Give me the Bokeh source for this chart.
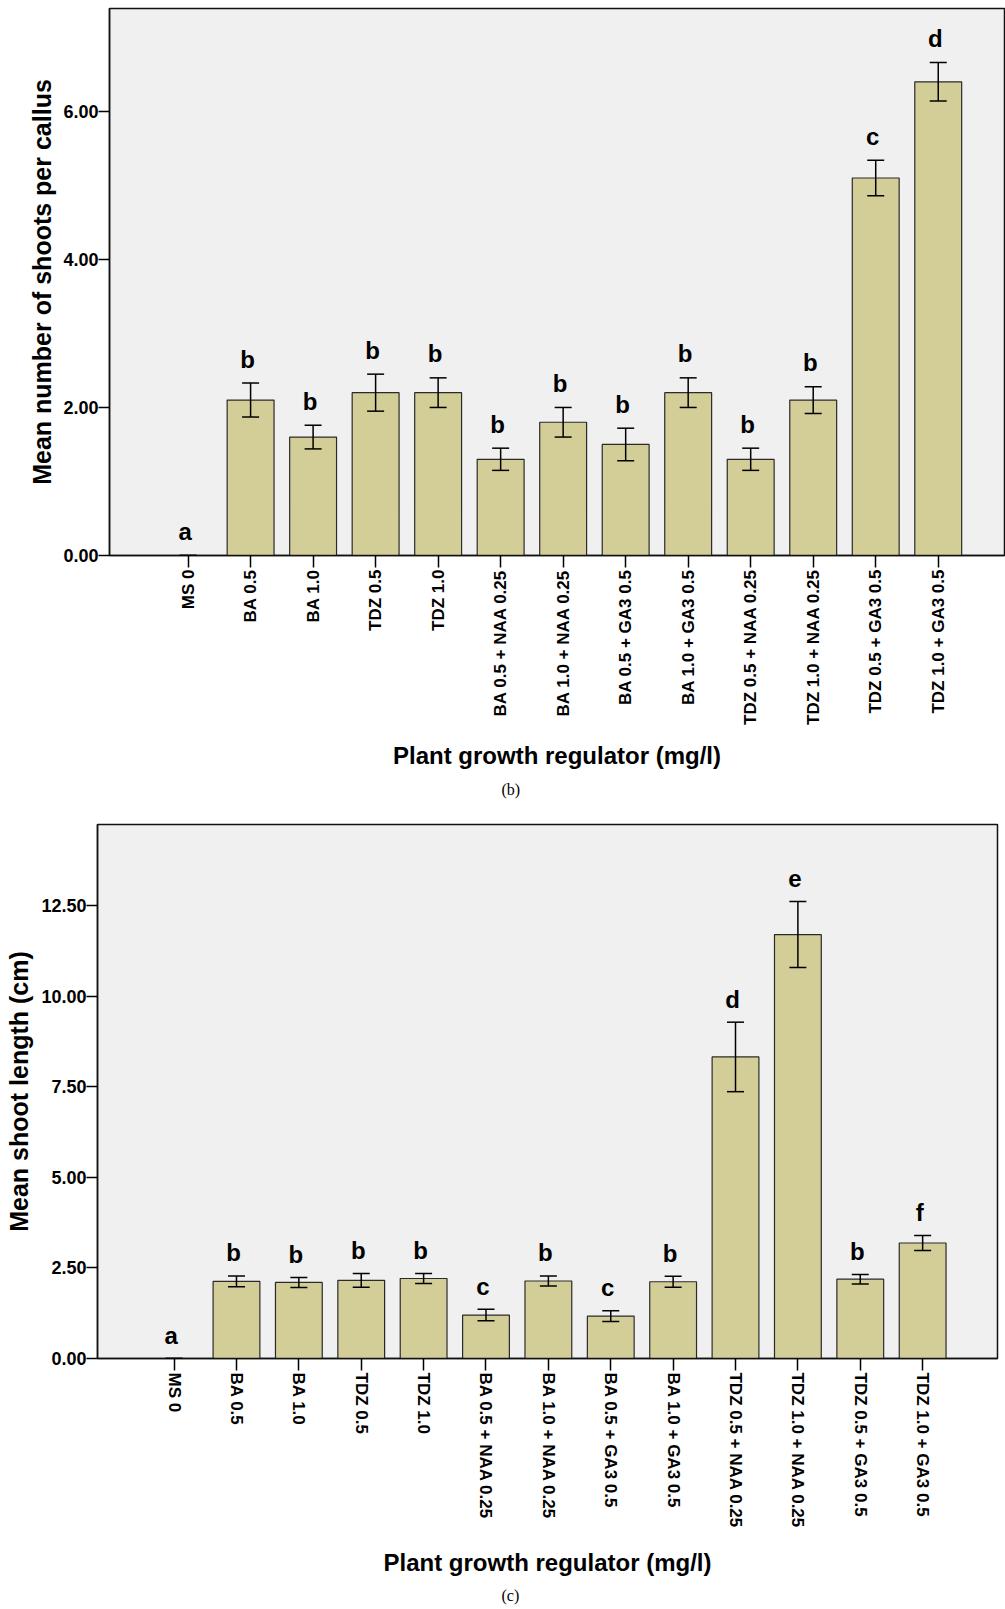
import math

from bokeh.core.properties import value
from bokeh.embed import file_html
from bokeh.models import (ColumnDataSource, FixedTicker, NumeralTickFormatter,
                          Range1d, TeeHead, Title, Whisker)
from bokeh.plotting import figure
from bokeh.resources import INLINE

# Treatments (plant growth regulators, mg/l)
treatments = [
    "MS 0", "BA 0.5", "BA 1.0", "TDZ 0.5", "TDZ 1.0",
    "BA 0.5 + NAA 0.25", "BA 1.0 + NAA 0.25",
    "BA 0.5 + GA3 0.5", "BA 1.0 + GA3 0.5",
    "TDZ 0.5 + NAA 0.25", "TDZ 1.0 + NAA 0.25",
    "TDZ 0.5 + GA3 0.5", "TDZ 1.0 + GA3 0.5",
]

# (b) mean number of shoots per callus, standard error, significance group
shoots_mean = [0.00, 2.10, 1.60, 2.20, 2.20, 1.30, 1.80, 1.50, 2.20, 1.30, 2.10, 5.10, 6.40]
shoots_se = [0.00, 0.23, 0.16, 0.25, 0.20, 0.15, 0.20, 0.22, 0.20, 0.15, 0.18, 0.24, 0.26]
shoots_group = ["a", "b", "b", "b", "b", "b", "b", "b", "b", "b", "b", "c", "d"]

# (c) mean shoot length (cm), standard error, significance group
length_mean = [0.00, 2.13, 2.10, 2.16, 2.21, 1.20, 2.14, 1.17, 2.12, 8.33, 11.71, 2.19, 3.19]
length_se = [0.00, 0.15, 0.14, 0.19, 0.14, 0.16, 0.14, 0.15, 0.15, 0.96, 0.91, 0.13, 0.21]
length_group = ["a", "b", "b", "b", "b", "c", "b", "c", "b", "d", "e", "b", "f"]

shoots_ticks = [0, 2, 4, 6]
length_ticks = [0, 2.5, 5, 7.5, 10, 12.5]

FONT = "Liberation Sans"
BAR_FILL = "#D3CE98"
FRAME = "#111111"


def bar_panel(means, errs, groups, y_end, y_ticks, y_title, caption,
              x_start, x_end, label_angle, height, borders,
              y_title_standoff, caption_offset, x_title_standoff, caption_standoff,
              letter_lift):
    idx = list(range(len(treatments)))
    src = ColumnDataSource(dict(
        x=idx,
        mean=means,
        upper=[m + e for m, e in zip(means, errs)],
        lower=[m - e for m, e in zip(means, errs)],
        group=groups,
    ))
    top, right, bottom, left = borders
    p = figure(width=1005, height=height, output_backend="svg",
               toolbar_location=None,
               x_range=Range1d(x_start, x_end), y_range=Range1d(0, y_end),
               min_border_top=top, min_border_right=right,
               min_border_bottom=bottom, min_border_left=left)
    p.background_fill_color = "#F0F0F0"
    p.border_fill_color = "white"
    p.outline_line_color = FRAME
    p.outline_line_width = 1.5
    p.xgrid.visible = False
    p.ygrid.visible = False

    p.vbar(x="x", top="mean", bottom=0, width=0.75, source=src,
           fill_color=BAR_FILL, line_color="#2a2a2a", line_width=1.2)

    head = dict(size=17, line_color="black", line_width=1.5)
    p.add_layout(Whisker(base="x", upper="upper", lower="lower", source=src,
                         level="annotation",
                         line_color="black", line_width=1.5,
                         upper_head=TeeHead(**head), lower_head=TeeHead(**head)))

    p.text(x="x", y="upper", text="group", source=src,
           text_font=value(FONT), text_font_style="bold", text_font_size="24px",
           text_align="center", text_baseline="alphabetic",
           x_offset=-3, y_offset=-letter_lift, text_color="black")

    # value axis
    ya = p.yaxis[0]
    ya.ticker = FixedTicker(ticks=y_ticks)
    ya.formatter = NumeralTickFormatter(format="0.00")
    ya.minor_tick_line_color = None
    ya.major_tick_in = 0
    ya.major_tick_out = 11
    ya.major_tick_line_width = 1.5
    ya.major_tick_line_color = "black"
    ya.axis_line_color = FRAME
    ya.axis_line_width = 1.5
    ya.major_label_standoff = 0
    ya.major_label_text_font = FONT
    ya.major_label_text_font_style = "bold"
    ya.major_label_text_font_size = "18px"
    ya.major_label_text_color = "black"
    ya.axis_label = y_title
    ya.axis_label_text_font = FONT
    ya.axis_label_text_font_style = "bold"
    ya.axis_label_text_font_size = "25px"
    ya.axis_label_text_color = "black"
    ya.axis_label_standoff = y_title_standoff

    # treatment axis
    xa = p.xaxis[0]
    xa.ticker = FixedTicker(ticks=idx)
    xa.major_label_overrides = {i: t for i, t in enumerate(treatments)}
    xa.major_label_orientation = label_angle
    xa.minor_tick_line_color = None
    xa.major_tick_in = 0
    xa.major_tick_out = 12
    xa.major_tick_line_width = 1.5
    xa.major_tick_line_color = "black"
    xa.axis_line_color = FRAME
    xa.axis_line_width = 1.5
    xa.major_label_standoff = 2
    xa.major_label_text_font = FONT
    xa.major_label_text_font_style = "bold"
    xa.major_label_text_font_size = "17px"
    xa.major_label_text_color = "black"
    xa.axis_label = "Plant growth regulator (mg/l)"
    xa.axis_label_text_font = FONT
    xa.axis_label_text_font_style = "bold"
    xa.axis_label_text_font_size = "24px"
    xa.axis_label_text_color = "black"
    xa.axis_label_standoff = x_title_standoff

    # panel caption, left-aligned and shifted along the frame
    p.add_layout(Title(text=caption, align="left", offset=caption_offset,
                       standoff=caption_standoff,
                       text_font="Liberation Serif", text_font_style="normal",
                       text_font_size="16px", text_color="black"), "below")
    return p


p_b = bar_panel(shoots_mean, shoots_se, shoots_group, 7.39, shoots_ticks,
                "Mean number of shoots per callus", "(b)",
                -1.257, 13.06, math.pi / 2, 812, (8, 1, 257, 109),
                4, 392, 14, 14, 24)

p_c = bar_panel(length_mean, length_se, length_group, 14.75, length_ticks,
                "Mean shoot length (cm)", "(c)",
                -1.228, 13.2, -math.pi / 2, 797, (12, 8, 247, 97),
                5, 404, 18, 12, 23)

# the two panels are independent roots, stacked on the page
open("out.html", "w").write(file_html([p_b, p_c], INLINE))
